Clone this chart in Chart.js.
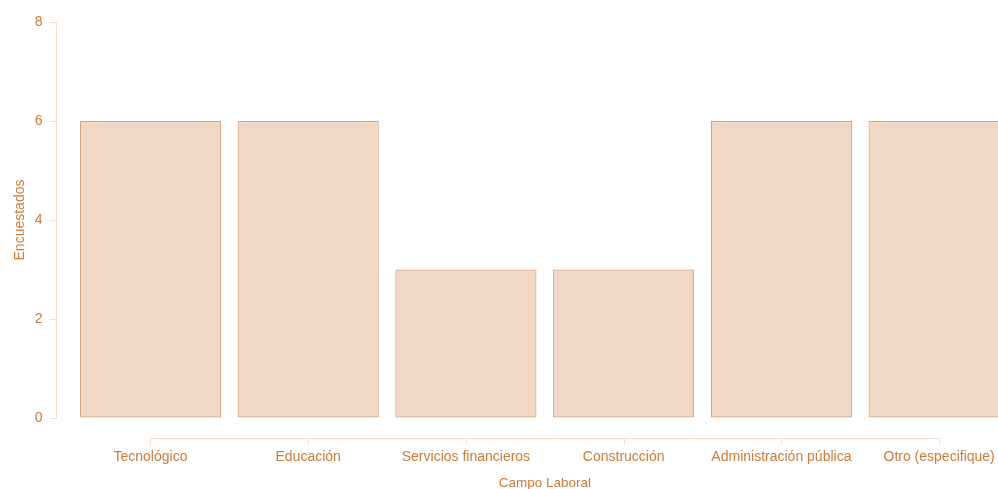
<!DOCTYPE html>
<html>
<head>
<meta charset="utf-8">
<script src="https://cdn.jsdelivr.net/npm/chart.js@4"></script>
<style>
  html, body { margin: 0; padding: 0; background: #fff; overflow: hidden; width: 998px; height: 489px; }
  #wrap { position: relative; width: 1022px; height: 489px; }
</style>
</head>
<body>
<div id="wrap"><canvas id="chart"></canvas></div>
<script>
const categories = ['Tecnológico', 'Educación', 'Servicios financieros', 'Construcción', 'Administración pública', 'Otro (especifique)'];
const counts = [6, 6, 3, 3, 6, 6];
const yTicks = [0, 2, 4, 6, 8];

const textColor = '#d07a35';
const axisColor = '#f2dfd0';
const fontFamily = '"Liberation Sans", Arial, sans-serif';

// detached axis lines, drawn from the chart's own scales
const offsetAxes = {
    id: 'offsetAxes',
    afterDraw(chart) {
        const c = chart.ctx;
        const x = chart.scales.x;
        const y = chart.scales.y;
        const yAxisX = Math.round(chart.chartArea.left) - 15.5;
        const xAxisY = Math.round(chart.chartArea.bottom) + 20.5;
        c.save();
        c.strokeStyle = axisColor;
        c.lineWidth = 1;
        c.beginPath();
        c.moveTo(yAxisX, y.getPixelForValue(0));
        c.lineTo(yAxisX, y.getPixelForValue(8));
        yTicks.forEach(v => {
            const py = Math.round(y.getPixelForValue(v)) + 0.5;
            c.moveTo(yAxisX, py);
            c.lineTo(yAxisX - 7, py);
        });
        const first = Math.round(x.getPixelForTick(0)) + 0.5;
        const last = Math.round(x.getPixelForTick(categories.length - 1)) + 0.5;
        c.moveTo(first, xAxisY);
        c.lineTo(last, xAxisY);
        categories.forEach((_, i) => {
            const px = Math.round(x.getPixelForTick(i)) + 0.5;
            c.moveTo(px, xAxisY);
            c.lineTo(px, xAxisY + 6);
        });
        c.stroke();
        c.restore();
    }
};

new Chart(document.getElementById('chart'), {
    type: 'bar',
    data: {
        labels: categories,
        datasets: [{
            data: counts,
            backgroundColor: '#f0d8c5',
            borderColor: '#d9a277',
            borderWidth: 1.2,
            borderSkipped: false,
            barPercentage: 0.895,
            categoryPercentage: 1.0
        }]
    },
    options: {
        responsive: true,
        maintainAspectRatio: false,
        animation: false,
        layout: { padding: { top: 22, left: 8, right: 4, bottom: -2 } },
        plugins: {
            legend: { display: false },
            tooltip: { enabled: false }
        },
        scales: {
            x: {
                grid: { display: true, drawOnChartArea: false, drawTicks: true, tickLength: 29, color: 'rgba(0,0,0,0)' },
                border: { display: false },
                ticks: {
                    color: textColor,
                    font: { family: fontFamily, size: 14 },
                    padding: 2,
                    maxRotation: 0,
                    autoSkip: false
                },
                title: {
                    display: true,
                    text: 'Campo Laboral',
                    color: textColor,
                    font: { family: fontFamily, size: 13.5 },
                    padding: { top: 7, bottom: 0 }
                }
            },
            y: {
                min: 0,
                max: 8,
                grid: { display: true, drawOnChartArea: false, drawTicks: true, tickLength: 27, color: 'rgba(0,0,0,0)' },
                border: { display: false },
                afterBuildTicks(axis) {
                    axis.ticks = yTicks.map(v => ({ value: v }));
                },
                ticks: {
                    color: textColor,
                    font: { family: fontFamily, size: 14 },
                    padding: 2
                },
                title: {
                    display: true,
                    text: 'Encuestados',
                    color: textColor,
                    font: { family: fontFamily, size: 14 },
                    padding: { top: 4, bottom: 4 }
                }
            }
        }
    },
    plugins: [offsetAxes]
});
</script>
</body>
</html>
